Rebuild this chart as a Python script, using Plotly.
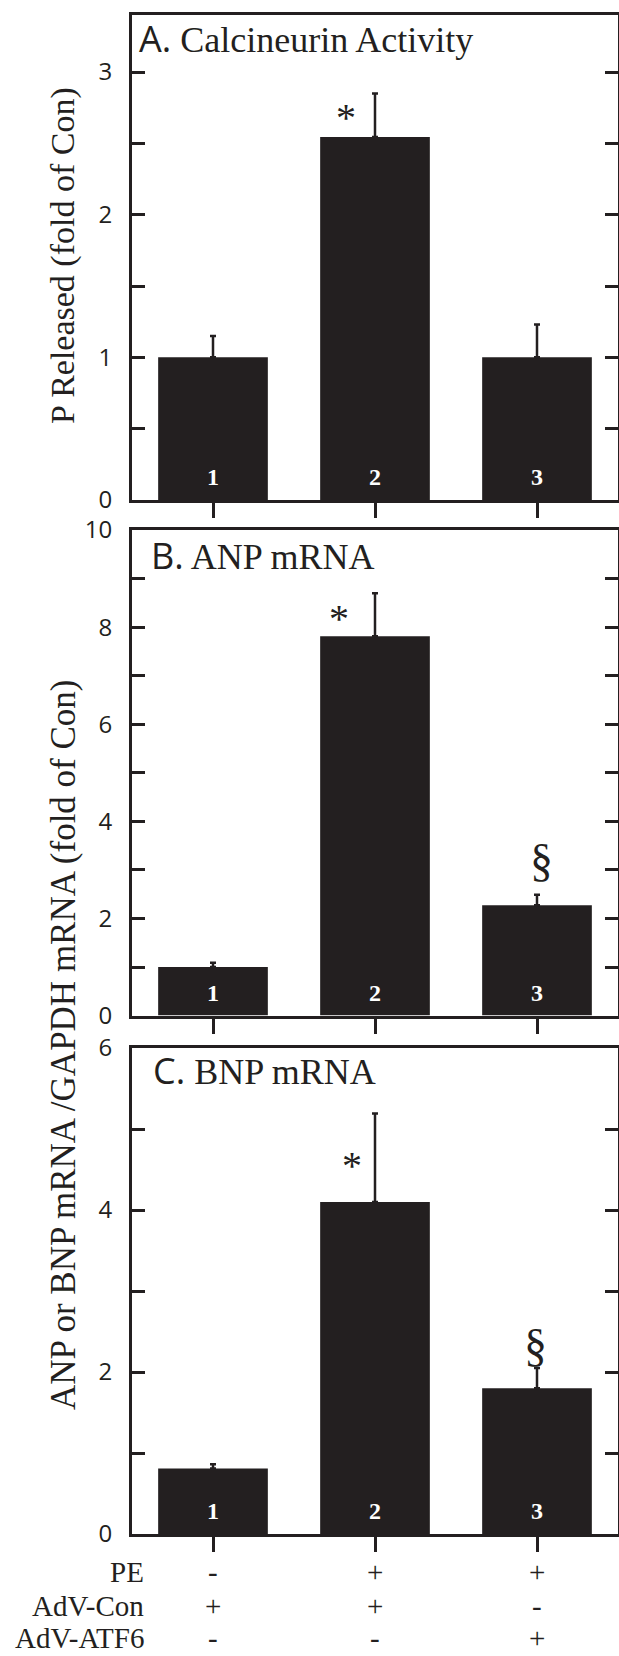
import plotly.graph_objects as go

# ---------------- data ----------------
groups = [1, 2, 3]
group_labels = ["1", "2", "3"]

calcineurin_mean = [1.0, 2.545, 1.0]
calcineurin_err_top = [1.15, 2.85, 1.23]

anp_mean = [1.0, 7.81, 2.27]
anp_err_top = [1.09, 8.70, 2.49]

bnp_mean = [0.81, 4.10, 1.80]
bnp_err_top = [0.86, 5.19, 2.05]

panel_titles = ["A. Calcineurin Activity", "B. ANP mRNA", "C. BNP mRNA"]
ytitle_a = "P Released (fold of Con)"
ytitle_bc = "ANP or BNP mRNA /GAPDH mRNA (fold of Con)"

row_names = ["PE", "AdV-Con", "AdV-ATF6"]
row_PE = ["-", "+", "+"]
row_AdVCon = ["+", "+", "-"]
row_AdVATF6 = ["-", "-", "+"]

yticks_a = [0, 0.5, 1, 1.5, 2, 2.5, 3]
yticklabels_a = ["0", "", "1", "", "2", "", "3"]
yticks_b = [0, 1, 2, 3, 4, 5, 6, 7, 8, 9, 10]
yticklabels_b = ["0", "", "2", "", "4", "", "6", "", "8", "", "10"]
yticks_c = [0, 1, 2, 3, 4, 5, 6]
yticklabels_c = ["0", "", "2", "", "4", "", "6"]

# ---------------- style ----------------
W, H = 619, 1656
INK = "#231f20"
SERIF = "Liberation Serif"
SANS = "Open Sans"


def px(x):
    return x / W


def py(y):
    return 1 - y / H


panels = [
    (calcineurin_mean, calcineurin_err_top, [0, 3.4], yticks_a, yticklabels_a, 15, 500),
    (anp_mean, anp_err_top, [0, 10], yticks_b, yticklabels_b, 530, 1015.6),
    (bnp_mean, bnp_err_top, [0, 6], yticks_c, yticklabels_c, 1048, 1534),
]

fig = go.Figure()
layout = dict(
    width=W, height=H,
    margin=dict(l=0, r=0, t=0, b=0, autoexpand=False),
    paper_bgcolor="white", plot_bgcolor="white",
    showlegend=False,
)
annotations = []

for i, (m, et, yr, tv, tt, top, bot) in enumerate(panels):
    n = "" if i == 0 else str(i + 1)
    xa, ya = "x" + n, "y" + n
    fig.add_trace(go.Bar(
        x=groups, y=m, xaxis=xa, yaxis=ya,
        marker=dict(color=INK, line=dict(width=0)),
        error_y=dict(type="data", symmetric=False,
                     array=[t - v for t, v in zip(et, m)],
                     arrayminus=[0] * len(m),
                     color=INK, thickness=2.5, width=3),
        width=0.677,
        hoverinfo="skip",
    ))
    layout["xaxis" + n] = dict(
        domain=[px(132), px(618)], anchor=ya, range=[0.5, 3.5],
        tickvals=groups, ticktext=["", "", ""],
        ticks="outside", ticklen=15, tickwidth=3, tickcolor=INK,
        showline=True, linewidth=3, linecolor=INK, mirror=True,
        showgrid=False, zeroline=False, fixedrange=True, automargin=False,
    )
    layout["yaxis" + n] = dict(
        domain=[py(bot), py(top)], anchor=xa, range=yr,
        tickvals=tv, ticktext=tt,
        ticks="inside", ticklen=13, tickwidth=3, tickcolor=INK,
        showline=True, linewidth=3, linecolor=INK, mirror="ticks",
        showgrid=False, zeroline=False, fixedrange=True, automargin=False,
        tickfont=dict(family=SANS, size=24, color=INK),
        ticklabelstandoff=12,
    )
    for g, lab in zip(groups, group_labels):
        annotations.append(dict(
            x=g, y=0.047, xref=xa, yref=ya + " domain",
            text="<b>" + lab + "</b>", showarrow=False,
            font=dict(family=SERIF, size=24, color="white"),
            xanchor="center", yanchor="middle",
        ))

# panel titles
title_pos = [(137, 39), (149, 556), (151, 1070)]
for t, (tx, ty) in zip(panel_titles, title_pos):
    letter, rest = t.split(" ", 1)
    annotations.append(dict(
        x=px(tx), y=py(ty), xref="paper", yref="paper",
        text='<span style="font-family:%s">%s</span> %s' % (SANS, letter, rest),
        showarrow=False, xanchor="left", yanchor="middle",
        font=dict(family=SERIF, size=36, color=INK),
    ))

# y-axis titles
annotations.append(dict(
    x=px(63), y=py(256), xref="paper", yref="paper", text=ytitle_a,
    textangle=-90, showarrow=False, xanchor="center", yanchor="middle",
    font=dict(family=SERIF, size=34, color=INK),
))
annotations.append(dict(
    x=px(63), y=py(1045), xref="paper", yref="paper", text=ytitle_bc,
    textangle=-90, showarrow=False, xanchor="center", yanchor="middle",
    font=dict(family=SERIF, size=35, color=INK),
))

# significance marks
marks = [
    ("*", 1.82, 2.68, "x", "y", 40),
    ("*", 1.78, 8.17, "x2", "y2", 40),
    ("§", 3.03, 3.2, "x2", "y2", 46),
    ("*", 1.86, 4.55, "x3", "y3", 40),
    ("§", 2.99, 2.33, "x3", "y3", 46),
]
for txt, mx, my, xr, yr_, fs in marks:
    annotations.append(dict(
        x=mx, y=my, xref=xr, yref=yr_, text=txt, showarrow=False,
        xanchor="center", yanchor="middle",
        font=dict(family=SERIF, size=fs, color=INK),
    ))

# treatment table
rows = [row_PE, row_AdVCon, row_AdVATF6]
row_y = [1572, 1606, 1638]
for name, vals, ry in zip(row_names, rows, row_y):
    annotations.append(dict(
        x=px(146), y=py(ry), xref="paper", yref="paper", text=name,
        showarrow=False, xanchor="right", yanchor="middle",
        font=dict(family=SERIF, size=29, color=INK),
    ))
    for g, v in zip(groups, vals):
        annotations.append(dict(
            x=g, y=py(ry), xref="x3", yref="paper", text=v,
            showarrow=False, xanchor="center", yanchor="middle",
            font=dict(family=SERIF, size=29, color=INK),
        ))

layout["annotations"] = annotations
fig.update_layout(**layout)

fig.write_html("out.html", config={"displayModeBar": False},
               post_script="document.body.style.margin='0';document.body.style.overflow='hidden';")
